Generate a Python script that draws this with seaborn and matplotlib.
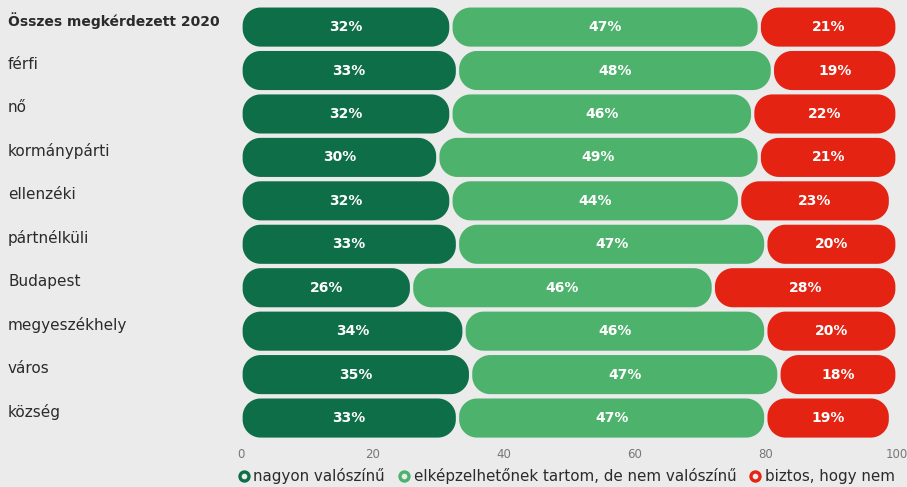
import matplotlib
matplotlib.use("Agg")
import matplotlib.pyplot as plt
from matplotlib.patches import Polygon
from matplotlib.lines import Line2D
import seaborn as sns
import pandas as pd
import numpy as np

categories = ["Összes megkérdezett 2020", "férfi", "nő", "kormánypárti", "ellenzéki",
              "pártnélküli", "Budapest", "megyeszékhely", "város", "község"]
nagyon = [32, 33, 32, 30, 32, 33, 26, 34, 35, 33]
elkepzelheto = [47, 48, 46, 49, 44, 47, 46, 46, 47, 47]
biztos = [21, 19, 22, 21, 23, 20, 28, 20, 18, 19]
series_names = ["nagyon valószínű", "elképzelhetőnek tartom, de nem valószínű", "biztos, hogy nem"]
colors = ["#0e6e48", "#4db26b", "#e42313"]
xticks = [0, 20, 40, 60, 80, 100]

BG = "#ebebeb"
sns.set_theme(style="white")
plt.rcParams["font.family"] = ["DejaVu Sans"]

fig = plt.figure(figsize=(9.07, 4.87), dpi=100, facecolor=BG)
ax = fig.add_axes([0.2657, 0.097, 0.989 - 0.2657, 0.989 - 0.097])
ax.set_facecolor(BG)
ax.set_xlim(0, 100)
ax.set_ylim(len(categories) - 0.5, -0.5)

# pixel-to-data scale for circular corners
px_x = 100 / (907 * (0.989 - 0.2657))
px_y = len(categories) / (487 * (0.989 - 0.097))
R_PX = 18


def rounded_rect(x0, y0, w, h):
    rx = min(R_PX * px_x, w / 2)
    ry = min(R_PX * px_y, h / 2)
    t = np.linspace(0, np.pi / 2, 20)
    x1, y1 = x0 + w, y0 + h
    pts = []
    for cx, cy, a0 in [(x1 - rx, y1 - ry, 0), (x0 + rx, y1 - ry, np.pi / 2),
                       (x0 + rx, y0 + ry, np.pi), (x1 - rx, y0 + ry, 1.5 * np.pi)]:
        ang = a0 + t
        pts.append(np.column_stack([cx + rx * np.cos(ang), cy + ry * np.sin(ang)]))
    return np.vstack(pts)


series = [nagyon, elkepzelheto, biztos]
lefts = np.zeros(len(categories))
for vals, col in zip(series, colors):
    df = pd.DataFrame({"cat": categories, "val": vals})
    n_before = len(ax.patches)
    sns.barplot(data=df, x="val", y="cat", order=categories, color=col,
                orient="h", width=0.9, ax=ax, saturation=1)
    new = ax.patches[n_before:]
    for p, left, v in zip(list(new), lefts, vals):
        y = p.get_y(); h = p.get_height()
        p.remove()
        gap = 0.25
        poly = Polygon(rounded_rect(left + gap, y, v - 2 * gap, h), closed=True,
                       facecolor=col, edgecolor="none")
        ax.add_patch(poly)
        ax.text(left + v / 2, y + h / 2, f"{v}%", ha="center", va="center",
                color="white", fontsize=10, fontweight="bold")
    lefts = lefts + np.array(vals)

ax.set_xlim(0, 100)
ax.set_ylim(len(categories) - 0.5, -0.5)
ax.set_xticks(xticks)
ax.set_xticklabels([str(t) for t in xticks], fontsize=8.5, color="#777777")
ax.tick_params(axis="x", length=0, pad=6)
ax.set_yticks([])
ax.set_xlabel(""); ax.set_ylabel("")
for s in ax.spines.values():
    s.set_visible(False)

for i, c in enumerate(categories):
    yfig = 1 - (27 + i * 43.45 - 6) / 487
    fig.text(8 / 907, yfig, c, ha="left", va="center",
             fontsize=10 if i == 0 else 11,
             color="#2b2b2b", fontweight="bold" if i == 0 else "normal")

handles = [Line2D([], [], marker="o", linestyle="none", markersize=6.5,
                  markerfacecolor="none", markeredgecolor=c, markeredgewidth=2.4)
           for c in colors]
fig.legend(handles, series_names, loc="center left", bbox_to_anchor=(236 / 907, 1 - 476 / 487),
           ncol=3, frameon=False, fontsize=10.9, handletextpad=0.15, columnspacing=0.75,
           handlelength=1.0, labelcolor="#2b2b2b", borderaxespad=0, borderpad=0)

fig.savefig("out.png", dpi=100, facecolor=BG)
